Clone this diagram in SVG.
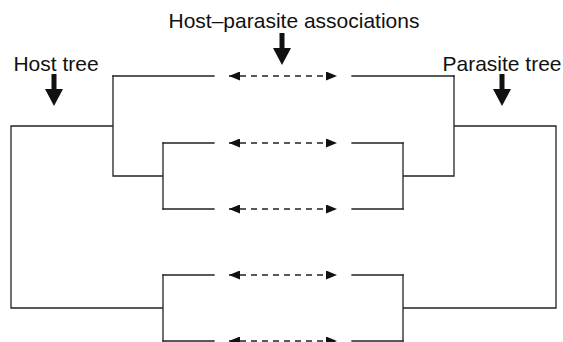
<svg xmlns="http://www.w3.org/2000/svg" width="563" height="342" viewBox="0 0 563 342">
<style>
.t{font-family:"Liberation Sans",Arial,Helvetica,sans-serif;font-size:21px;fill:#111;text-anchor:middle}
.br{fill:none;stroke:#222;stroke-width:1.3;stroke-linecap:square}
.as{fill:none;stroke:#222;stroke-width:1.3;stroke-dasharray:6 5}
.big{fill:#111}
</style>
<defs>
<marker id="ah" viewBox="0 0 11 9" refX="11" refY="4.5" markerWidth="11" markerHeight="9" markerUnits="userSpaceOnUse" orient="auto-start-reverse">
<path d="M0,0 L11,4.5 L0,9 Z" fill="#111"/>
</marker>
</defs>
<rect width="563" height="342" fill="#fff"/>
<g id="label-host-tree">
<text class="t" x="56" y="70.5">Host tree</text>
<polygon class="big" points="51.5,74 56.5,74 56.5,89 63,89 54,106 45,89 51.5,89"/>
</g>
<g id="label-associations">
<text class="t" x="294" y="28">Host–parasite associations</text>
<polygon class="big" points="279.5,33 284.5,33 284.5,48 291,48 282,65 273,48 279.5,48"/>
</g>
<g id="label-parasite-tree">
<text class="t" x="502" y="70.5">Parasite tree</text>
<polygon class="big" points="499.5,74 504.5,74 504.5,89 511,89 502,106 493,89 499.5,89"/>
</g>
<g id="host-tree">
<path class="br" d="M113,76 H214 M163,143 H214 M163,209 H214 M163,275 H214 M163,341 H214"/>
<path class="br" d="M163,143 V209 M113,176 H163 M113,76 V176 M11,126 H113 M163,275 V341 M11,308 H163 M11,126 V308"/>
</g>
<g id="parasite-tree">
<path class="br" d="M352,76 H454 M352,143 H403 M352,209 H403 M352,275 H403 M352,341 H403"/>
<path class="br" d="M403,143 V209 M403,176 H454 M454,76 V176 M454,126 H556 M403,275 V341 M403,308 H556 M556,126 V308"/>
</g>
<g id="connectors">
<path class="as" d="M229,76 H337" marker-start="url(#ah)" marker-end="url(#ah)"/>
<path class="as" d="M229,143 H337" marker-start="url(#ah)" marker-end="url(#ah)"/>
<path class="as" d="M229,209 H337" marker-start="url(#ah)" marker-end="url(#ah)"/>
<path class="as" d="M229,275 H337" marker-start="url(#ah)" marker-end="url(#ah)"/>
<path class="as" d="M229,341 H337" marker-start="url(#ah)" marker-end="url(#ah)"/>
</g>
</svg>
